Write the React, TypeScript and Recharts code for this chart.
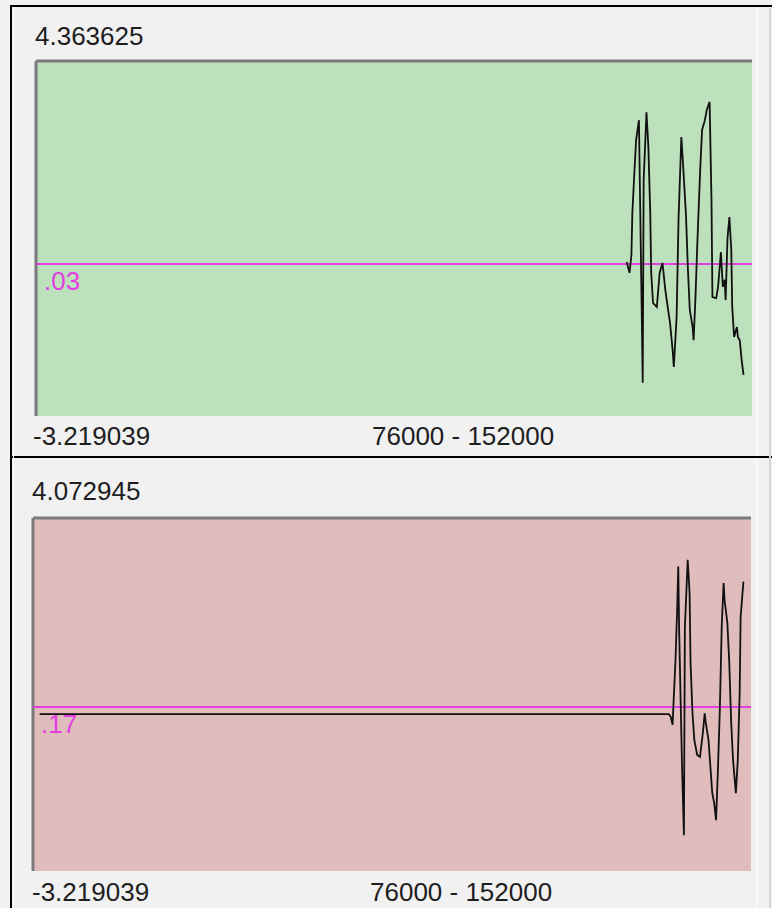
import { LineChart, Line, XAxis, YAxis, ReferenceArea, ReferenceLine } from 'recharts'

// x range shared by both traces
const xRange = [76000, 152000]

// upper trace (green panel)
const topRange = [-3.219039, 4.363625]
const topLevel = 0.03
const topX = [
  138700, 139000, 139200, 139300, 139500, 139700, 140000, 140100, 140300, 140400,
  140500, 140800, 141000, 141200, 141300, 141500, 141900, 142200, 142500, 142800,
  143100, 143300, 143600, 143700, 144000, 144200, 144500, 144700, 145000, 145200,
  145400, 145700, 145800, 146000, 146200, 146500, 146700, 147000, 147200, 147500,
  147700, 147800, 148200, 148400, 148700, 148900, 149100, 149200, 149400, 149600,
  149800, 149900, 150100, 150400, 150500, 150700, 150900, 151100,
]
const topValues = [
  0.07, -0.16, 0.22, 1.12, 1.93, 2.68, 3.1, 1.67, -1.06, -2.51,
  1.82, 3.27, 2.53, 1.12, -0.16, -0.81, -0.89, -0.16, 0.05, -0.53,
  -0.96, -1.23, -1.87, -2.17, -1.1, 0.97, 2.74, 2.1, 1.03, -0.1,
  -0.96, -1.32, -1.6, -0.68, 0.48, 2.04, 2.89, 3.1, 3.32, 3.49,
  1.39, -0.68, -0.7, -0.46, 0.28, -0.46, -0.31, -0.74, 0.58, 1.03,
  0.33, -0.89, -1.53, -1.32, -1.53, -1.6, -2.02, -2.34,
]

// lower trace (red panel)
const bottomRange = [-3.219039, 4.072945]
const bottomLevel = 0.17
const bottomX = [
  76700, 143300, 143500, 143700, 143800, 144000, 144200, 144300, 144400, 144700,
  144900, 145000, 145300, 145500, 145600, 145800, 146000, 146300, 146600, 146900,
  147100, 147200, 147500, 147700, 147900, 148100, 148300, 148500, 148700, 148900,
  149100, 149200, 149500, 149700, 149900, 150100, 150400, 150600, 150800, 150900,
  151200,
]
const bottomValues = [
  0.02, 0.02, -0.03, -0.2, 0.25, 1.1, 2.28, 3.07, 1.7, -1.06,
  -2.48, 1.8, 3.21, 2.52, 1.08, 0.07, -0.51, -0.82, -0.86, -0.37,
  0.04, -0.14, -0.51, -1.06, -1.61, -1.81, -2.17, -1.13, 0.11, 1.83,
  2.73, 2.38, 1.9, 1.08, -0.14, -0.93, -1.61, -0.93, 0.46, 2.03,
  2.76,
]

const FONT = '"Liberation Sans", Arial, sans-serif'
const TEXT = '#1e1e1e'
const MAGENTA = '#e23ee2'
const BORDER = '#7a7a7a'

interface PanelProps {
  xs: number[]
  values: number[]
  range: number[]
  level: number
  levelText: string
  fill: string
  top: number
  height: number
  margin: { top: number; right: number; bottom: number; left: number }
}

function Panel({ xs, values, range, level, levelText, fill, top, height, margin }: PanelProps) {
  const data = xs.map((x, i) => ({ x, v: values[i] }))
  return (
    <div style={{ position: 'absolute', left: 0, top, width: 772, height }}>
      <LineChart width={772} height={height} data={data} margin={margin}>
        <XAxis type="number" dataKey="x" domain={xRange} hide allowDataOverflow />
        <YAxis type="number" domain={range} hide allowDataOverflow />
        <ReferenceArea
          x1={xRange[0]}
          x2={xRange[1]}
          y1={range[0]}
          y2={range[1]}
          fill={fill}
          fillOpacity={1}
          stroke="none"
        />
        <ReferenceLine y={range[1]} stroke={BORDER} strokeWidth={3} />
        <ReferenceLine x={xRange[0]} stroke={BORDER} strokeWidth={3} />
        <ReferenceLine
          y={level}
          stroke={MAGENTA}
          strokeWidth={2}
          label={(p: any) => (
            <text
              x={p.viewBox.x + 8}
              y={p.viewBox.y + 26}
              fill={MAGENTA}
              fontSize={26}
              fontFamily={FONT}
            >
              {levelText}
            </text>
          )}
        />
        <Line
          type="linear"
          dataKey="v"
          stroke="#111"
          strokeWidth={1.8}
          dot={false}
          isAnimationActive={false}
        />
      </LineChart>
    </div>
  )
}

const fmt = (n: number) => n.toFixed(6)

export default function App() {
  return (
    <div
      style={{
        position: 'absolute',
        left: 0,
        top: 0,
        width: 772,
        height: 908,
        background: '#f1f1f1',
        overflow: 'hidden',
      }}
    >
      <Panel
        xs={topX}
        values={topValues}
        range={topRange}
        level={topLevel}
        levelText=".03"
        fill="#bde0bd"
        top={0}
        height={456}
        margin={{ top: 61, right: 20, bottom: 40, left: 36 }}
      />
      <Panel
        xs={bottomX}
        values={bottomValues}
        range={bottomRange}
        level={bottomLevel}
        levelText=".17"
        fill="#e0bcbc"
        top={456}
        height={452}
        margin={{ top: 62, right: 21, bottom: 37, left: 33 }}
      />
      <svg
        width={772}
        height={908}
        style={{ position: 'absolute', left: 0, top: 0, pointerEvents: 'none' }}
      >
        {/* window frame */}
        <rect x={10} y={5} width={762} height={2} fill="#000" />
        <rect x={10} y={5} width={2} height={903} fill="#000" />
        <rect x={12} y={456} width={760} height={2} fill="#000" />
        <rect x={13} y={7} width={1} height={901} fill="#fff" />
        <rect x={756} y={8} width={2} height={446} fill="#fafafa" />
        <rect x={756} y={460} width={2} height={448} fill="#fafafa" />
        <rect x={769} y={8} width={2} height={900} fill="#d6d6d6" />
        <g fontFamily={FONT} fontSize={26} fill={TEXT}>
          <text x={35} y={45}>{fmt(topRange[1])}</text>
          <text x={33} y={445}>{fmt(topRange[0])}</text>
          <text x={372} y={445}>{`${xRange[0]} - ${xRange[1]}`}</text>
          <text x={32} y={500}>{fmt(bottomRange[1])}</text>
          <text x={32} y={901}>{fmt(bottomRange[0])}</text>
          <text x={370} y={901}>{`${xRange[0]} - ${xRange[1]}`}</text>
        </g>
      </svg>
    </div>
  )
}
